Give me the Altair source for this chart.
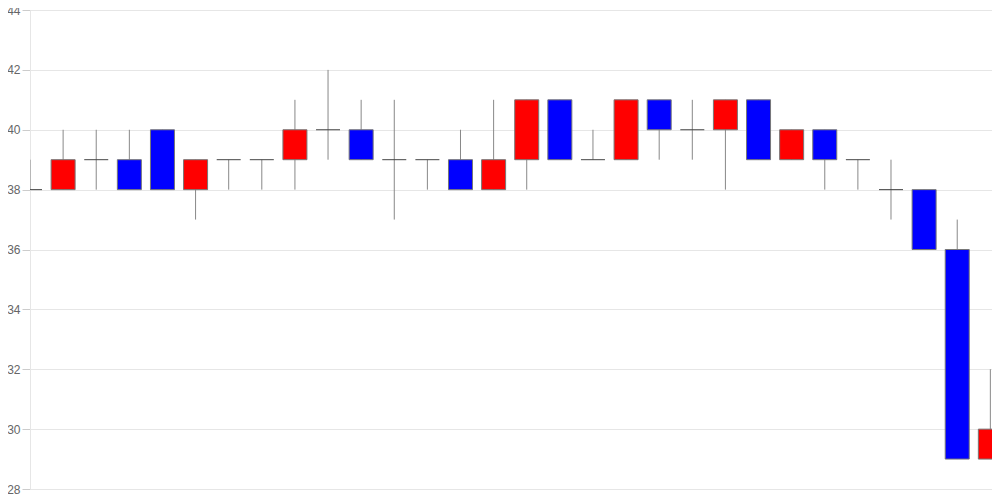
import altair as alt
import pandas as pd

idx = list(range(30))
opens = [38, 38, 39, 39, 40, 38, 39, 39, 39, 40, 40, 39, 39, 39, 38, 39, 41, 39, 39, 41, 40, 40, 41, 39, 40, 39, 38, 38, 36, 29]
highs = [39, 40, 40, 40, 40, 39, 39, 39, 41, 42, 41, 41, 39, 40, 41, 41, 41, 40, 41, 41, 41, 41, 41, 40, 40, 39, 39, 38, 37, 32]
lows = [38, 38, 38, 38, 38, 37, 38, 38, 38, 39, 39, 37, 38, 38, 38, 38, 39, 39, 39, 39, 39, 38, 39, 39, 38, 38, 37, 36, 29, 29]
closes = [38, 39, 39, 38, 38, 39, 39, 39, 40, 40, 39, 39, 39, 38, 39, 41, 39, 39, 41, 40, 40, 41, 39, 40, 39, 39, 38, 36, 29, 30]
y_ticks = [28, 30, 32, 34, 36, 38, 40, 42, 44]

df = pd.DataFrame({"i": idx, "open": opens, "high": highs, "low": lows, "close": closes})
df["dir"] = ["up" if c > o else ("down" if c < o else "flat") for o, c in zip(opens, closes)]

xs = alt.Scale(domain=[0, 29.05], nice=False, zero=False, padding=0)
ys = alt.Scale(domain=[28, 44], nice=False, zero=False, padding=0)

base = alt.Chart(df)

wick = base.mark_rule(color="#888888", strokeWidth=1, clip=True).encode(
    x=alt.X("i:Q", scale=xs, axis=None),
    y=alt.Y("low:Q", scale=ys, axis=alt.Axis(
        values=y_ticks, title=None, labelColor="#666666", labelFont="Liberation Sans",
        labelFontSize=12, tickColor="#cccccc", tickSize=8, labelPadding=2,
        domainColor="#e6e6e6", gridColor="#e6e6e6", grid=True)),
    y2="high:Q",
)

body = base.transform_filter("datum.open != datum.close").mark_bar(
    size=24, stroke="#777777", strokeWidth=1, clip=True
).encode(
    x=alt.X("i:Q", scale=xs),
    y=alt.Y("open:Q", scale=ys),
    y2="close:Q",
    color=alt.Color("dir:N", scale=alt.Scale(domain=["up", "down"], range=["#ff0000", "#0000ff"]), legend=None),
)

doji = base.transform_filter("datum.open == datum.close").mark_tick(
    orient="horizontal", size=24, thickness=1, color="#444444", opacity=1, clip=True
).encode(
    x=alt.X("i:Q", scale=xs),
    y=alt.Y("open:Q", scale=ys),
)

chart = alt.layer(wick, body, doji).properties(
    width=962, height=479,
    autosize=alt.AutoSizeParams(type="none"),
    padding={"left": 22, "top": 2, "right": 0, "bottom": 6},
).configure_view(strokeWidth=0)

chart.save("out.html", embed_options={"renderer": "svg", "actions": False})
